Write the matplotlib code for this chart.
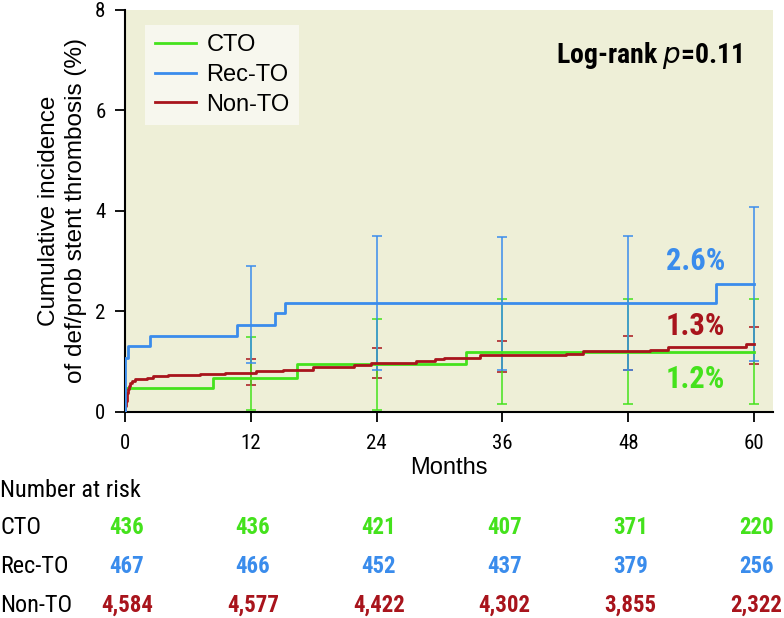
import numpy as np
import matplotlib
matplotlib.use("Agg")
import matplotlib.pyplot as plt
import matplotlib.transforms as mtransforms
from matplotlib import font_manager as fm

# --- fonts: a narrow face for numbers/table, a plain Helvetica-like face for the rest ---
entries = fm.fontManager.ttflist
names = {f.name for f in entries}
PLAIN = "Liberation Sans" if "Liberation Sans" in names else "DejaVu Sans"

NARROW, STRETCH, SCALE = PLAIN, "normal", 0.82
for fam in ["Liberation Sans Narrow", "Roboto Condensed", "Open Sans Condensed",
            "Noto Sans Condensed", "DejaVu Sans Condensed"]:
    if fam in names:
        NARROW, STRETCH, SCALE = fam, "normal", 1.0
        break
else:
    for fam in ["DejaVu Sans", "Noto Sans", "Open Sans", "Roboto"]:
        if any(f.name == fam and "condensed" in str(f.stretch) for f in entries):
            NARROW, STRETCH, SCALE = fam, "condensed", 1.0
            break

plt.rcParams["font.family"] = [PLAIN, "DejaVu Sans"]
nfont = dict(family=[NARROW, "DejaVu Sans"], stretch=STRETCH)

# --- data ---
groups = ["CTO", "Rec-TO", "Non-TO"]
colors = {"CTO": "#44E21C", "Rec-TO": "#3A8CEC", "Non-TO": "#A8141C"}

cto_t = [0, 0, 8.4, 16.4, 32.5, 60]
cto_v = [0, 0.47, 0.68, 0.95, 1.18, 1.18]

rec_t = [0, 0, 0.25, 2.4, 10.7, 14.3, 15.3, 56.4, 60]
rec_v = [0, 1.07, 1.31, 1.51, 1.72, 1.96, 2.16, 2.55, 2.55]

non_t = [0, 0.05, 0.1, 0.15, 0.22, 0.3, 0.4, 0.48, 0.7, 0.95, 2.07, 2.7, 4.1,
         7.2, 9.5, 12.5, 15.1, 17.96, 21.8, 23.5, 27.8, 29.6, 30.4, 33.9, 42.1,
         43.7, 50.1, 51.8, 59.2, 60]
non_v = [0, 0.12, 0.22, 0.3, 0.38, 0.45, 0.52, 0.58, 0.62, 0.65, 0.68, 0.71, 0.74,
         0.76, 0.78, 0.81, 0.84, 0.88, 0.93, 0.97, 1.01, 1.05, 1.07, 1.13, 1.15,
         1.21, 1.23, 1.29, 1.34, 1.34]

ci_t = [12, 24, 36, 48, 60]
cto_lo = [0.03, 0.03, 0.15, 0.15, 0.15]
cto_hi = [1.48, 1.84, 2.24, 2.24, 2.24]
rec_lo = [0.975, 0.83, 0.83, 0.83, 1.01]
rec_hi = [2.9, 3.5, 3.48, 3.5, 4.08]
non_lo = [0.53, 0.68, 0.80, 0.83, 0.95]
non_hi = [1.05, 1.26, 1.41, 1.51, 1.69]

final_pct = {"CTO": "1.2%", "Rec-TO": "2.6%", "Non-TO": "1.3%"}
final_y = {"CTO": 0.65, "Rec-TO": 3.0, "Non-TO": 1.71}

risk_t = [0, 12, 24, 36, 48, 60]
risk_cto = ["436", "436", "421", "407", "371", "220"]
risk_rec = ["467", "466", "452", "437", "379", "256"]
risk_non = ["4,584", "4,577", "4,422", "4,302", "3,855", "2,322"]

curves = {"CTO": (cto_t, cto_v), "Rec-TO": (rec_t, rec_v), "Non-TO": (non_t, non_v)}
cis = {"CTO": (cto_lo, cto_hi), "Rec-TO": (rec_lo, rec_hi), "Non-TO": (non_lo, non_hi)}
risks = {"CTO": risk_cto, "Rec-TO": risk_rec, "Non-TO": risk_non}

# --- figure ---
fig = plt.figure(figsize=(7.84, 6.18), dpi=100)
ax = fig.add_axes([0.1594, 0.3338, 0.8266, 0.6505])
ax.set_facecolor("#EEEFD7")

# error bars (red, green, blue so blue ends up on top)
for g in ["Non-TO", "CTO", "Rec-TO"]:
    lo, hi = cis[g]
    lo = np.array(lo)
    hi = np.array(hi)
    ax.errorbar(ci_t, lo, yerr=[np.zeros_like(lo), hi - lo], fmt="none",
                ecolor=colors[g], elinewidth=1.1, capsize=3.8, capthick=1.1, zorder=2)

for g in ["CTO", "Non-TO", "Rec-TO"]:
    t, v = curves[g]
    ax.step(t, v, where="post", color=colors[g], lw=2.0, label=g, zorder=3)

ax.set_xlim(0, 61.8)
ax.set_ylim(0, 8)
ax.set_xticks(risk_t)
ax.set_yticks([0, 2, 4, 6, 8])
for s in ["top", "right"]:
    ax.spines[s].set_visible(False)
for s in ["left", "bottom"]:
    ax.spines[s].set_linewidth(1.5)
ax.tick_params(axis="both", length=7, width=1.3, labelsize=15 * SCALE)
for lab in ax.get_xticklabels() + ax.get_yticklabels():
    lab.set_family([NARROW, "DejaVu Sans"])
    lab.set_stretch(STRETCH)
ax.tick_params(axis="x", pad=9)
ax.tick_params(axis="y", pad=7)

ax.set_xlabel("Months", fontsize=17, labelpad=3)
ax.set_ylabel("Cumulative incidence\nof def/prob stent thrombosis (%)",
              fontsize=17.5, linespacing=1.3, labelpad=6)

handles, labels = ax.get_legend_handles_labels()
order = [labels.index(g) for g in groups]
leg = ax.legend([handles[i] for i in order], [labels[i] for i in order],
                loc="upper left", bbox_to_anchor=(0.031, 0.962), borderaxespad=0,
                fontsize=17, frameon=True, fancybox=False, handlelength=1.75,
                handletextpad=0.45, labelspacing=0.32, borderpad=0.4)
leg.get_frame().set_facecolor("#F7F7EE")
leg.get_frame().set_edgecolor("none")
leg.get_frame().set_alpha(1)

ax.text(58.9, 7.08, "Log-rank $\\mathit{p}$=0.11", ha="right", va="center",
        fontsize=20 * SCALE, fontweight="bold", **nfont)

for g in groups:
    ax.text(54.4, final_y[g], final_pct[g], ha="center", va="center",
            fontsize=22 * SCALE, fontweight="bold", color=colors[g], **nfont)

# number-at-risk table
trans = mtransforms.blended_transform_factory(ax.transData, fig.transFigure)
fig.text(0.0, 0.207, "Number at risk", ha="left", va="center", fontsize=17.5 * SCALE, **nfont)
row_y = {"CTO": 0.146, "Rec-TO": 0.083, "Non-TO": 0.021}
for g in groups:
    fig.text(0.0, row_y[g], g, ha="left", va="center", fontsize=17.5 * SCALE, **nfont)
    for t, n in zip(risk_t, risks[g]):
        ax.text(t + 0.2, row_y[g], n, transform=trans, ha="center", va="center",
                fontsize=16.5 * SCALE, fontweight="bold", color=colors[g],
                clip_on=False, **nfont)

fig.savefig("out.png", dpi=100)
